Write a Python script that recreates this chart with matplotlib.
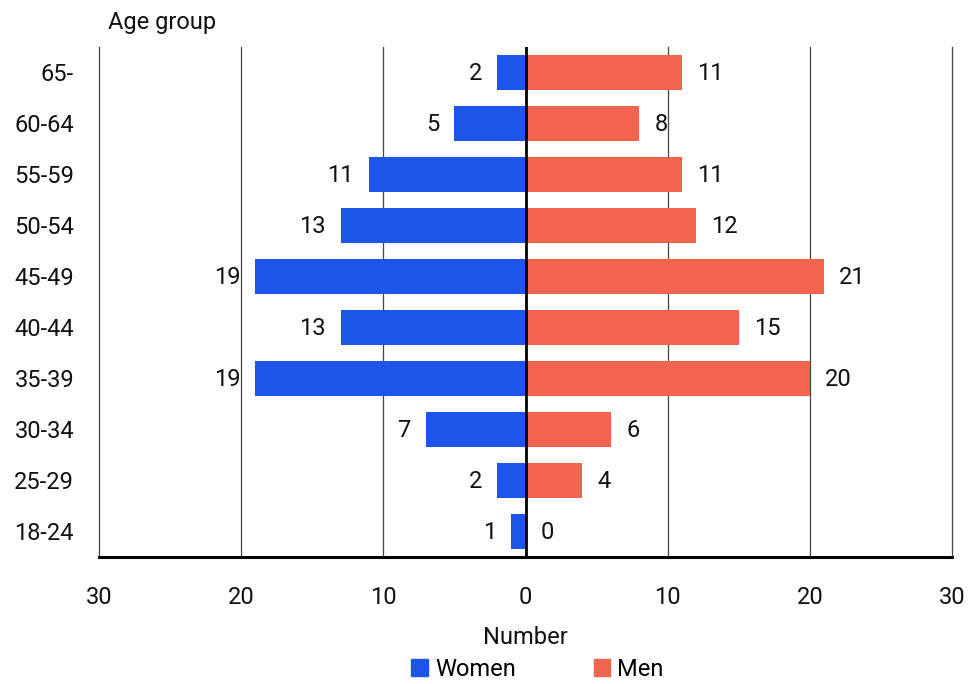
import matplotlib.pyplot as plt
from matplotlib.patches import Patch

plt.rcParams['font.family'] = ['Roboto', 'DejaVu Sans']

# Data
age_groups = ['18-24', '25-29', '30-34', '35-39', '40-44', '45-49', '50-54', '55-59', '60-64', '65-']
women = [1, 2, 7, 19, 13, 19, 13, 11, 5, 2]
men = [0, 4, 6, 20, 15, 21, 12, 11, 8, 11]

blue = '#1c55e8'
red = '#f2644d'

fig = plt.figure(figsize=(9.72, 6.84), dpi=100)
ax = fig.add_axes([0.1019, 0.1857, 0.8775, 0.7456])

y = range(len(age_groups))
ax.barh(y, [-w for w in women], height=0.7, color=blue, zorder=2)
ax.barh(y, men, height=0.7, color=red, zorder=2)

# Value labels
for i, (w, m) in enumerate(zip(women, men)):
    ax.annotate(str(w), (-w, i), xytext=(-11, -1), textcoords='offset points',
                ha='right', va='center', fontsize=17, color='#111111')
    ax.annotate(str(m), (m, i), xytext=(11, -1), textcoords='offset points',
                ha='left', va='center', fontsize=17, color='#111111')

ax.set_xlim(-30, 30)
ax.set_ylim(-0.5, 9.5)
ax.set_xticks([-30, -20, -10, 0, 10, 20, 30])
ax.set_xticklabels(['30', '20', '10', '0', '10', '20', '30'])
ax.set_yticks(list(y))
ax.set_yticklabels(age_groups)
ax.tick_params(axis='both', length=0, labelsize=17, colors='#111111')
ax.tick_params(axis='x', pad=21)
ax.tick_params(axis='y', pad=18)

for xv in [-20, -10, 10, 20]:
    ax.axvline(xv, color='#444444', linewidth=0.9, zorder=1)
ax.axvline(0, color='black', linewidth=2, zorder=3)

ax.spines['top'].set_visible(False)
ax.spines['left'].set_color('#444444')
ax.spines['left'].set_linewidth(0.9)
ax.spines['right'].set_color('#444444')
ax.spines['right'].set_linewidth(0.9)
ax.spines['bottom'].set_color('black')
ax.spines['bottom'].set_linewidth(2.2)

ax.set_xlabel('Number', fontsize=17, color='#111111', labelpad=12)
fig.text(108 / 972, 1 - 23 / 684, 'Age group', fontsize=17, ha='left', va='center', color='#111111')

handles = [Patch(color=blue, label='Women'), Patch(color=red, label='Men')]
fig.legend(handles=handles, loc='center', bbox_to_anchor=(0.553, 1 - 669 / 684), ncol=2,
           frameon=False, fontsize=17, handlelength=0.7, handleheight=0.7,
           handletextpad=0.3, columnspacing=3.3)

fig.savefig('out.png', dpi=100)
